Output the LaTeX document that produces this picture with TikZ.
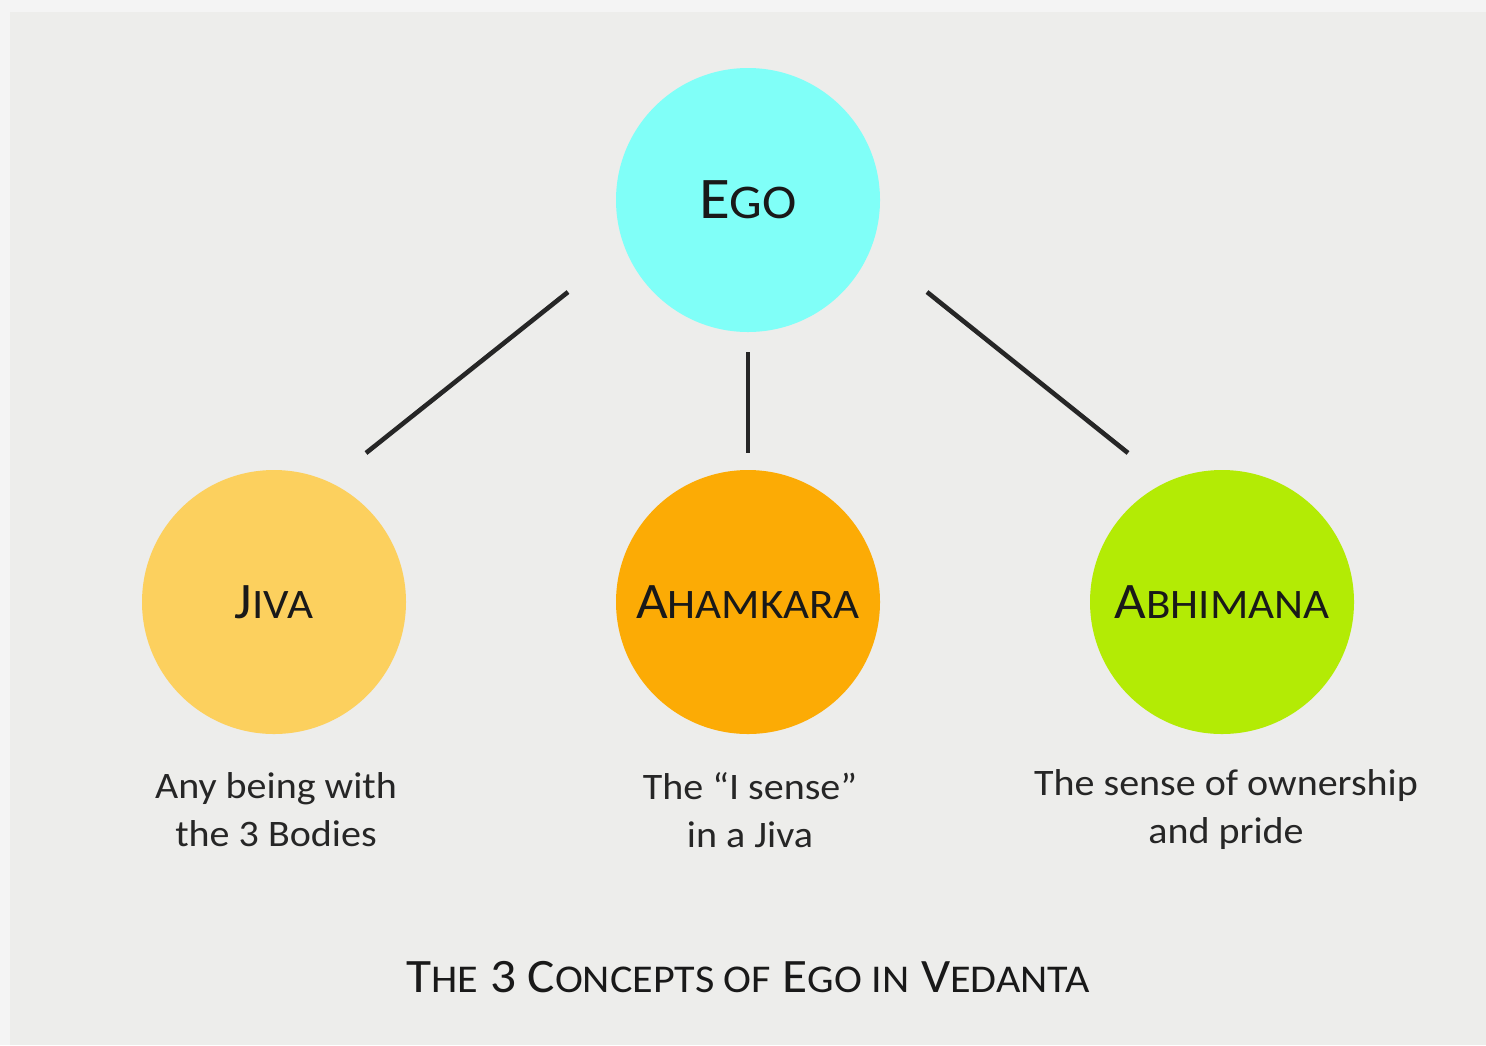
\documentclass[tikz,border=0pt]{standalone}
\usepackage{fontspec}
\setmainfont{Carlito}[FakeStretch=1.07]
\usetikzlibrary{positioning}
\definecolor{frame}{HTML}{F4F4F4}
\definecolor{paper}{HTML}{EDEDEB}
\definecolor{egocol}{HTML}{80FFF8}
\definecolor{jivacol}{HTML}{FCD05E}
\definecolor{ahamcol}{HTML}{FCAB05}
\definecolor{abhicol}{HTML}{B3EB05}
\newcommand{\smcap}[2]{#1\scalebox{0.82}{#2}}

\begin{document}
\begin{tikzpicture}[x=0.5pt,y=-0.5pt,
	concept/.style={circle,minimum size=132pt,inner sep=0pt,font=\fontsize{25.6}{28}\selectfont,text=black!90},
	note/.style={align=center,font=\fontsize{18.7}{24}\selectfont,text=black!85},
	link/.style={line width=2.3pt,black!85}]
	% background
	\fill [frame] (0,0) rectangle (1486,1045);
	\fill [paper] (10,12) rectangle (1486,1045);
	\useasboundingbox (0,0) rectangle (1486,1045);
	% circles
	\node [concept,fill=egocol,font=\fontsize{29.5}{32}\selectfont] at (748,200) (ego) {\smcap{E}{GO}};
	\node [concept,fill=jivacol] at (274,602) (jiva) {\smcap{J}{IVA}};
	\node [concept,fill=ahamcol] at (748,602) (aham) {\smcap{A}{HAMKARA}};
	\node [concept,fill=abhicol] at (1222,602) (abhi) {\smcap{A}{BHIMANA}};
	% line ends
	\path (ego.center) ++(-180,92) coordinate (egoL);
	\path (ego.center) ++(0,152) coordinate (egoM);
	\path (ego.center) ++(179,92) coordinate (egoR);
	\path (jiva.center) ++(92,-149) coordinate (jivaT);
	\path (aham.center) ++(0,-149) coordinate (ahamT);
	\path (abhi.center) ++(-94,-149) coordinate (abhiT);
	\draw [link] (egoL) -- (jivaT);
	\draw [link] (egoM) -- (ahamT);
	\draw [link] (egoR) -- (abhiT);
	% descriptions
	\node [note] at (276,810) (jivaNote) {Any being with\\the 3 Bodies};
	\node [note] at (750,810) (ahamNote) {The “I sense”\\in a Jiva};
	\node [note] at (1226,810) (abhiNote) {The sense of ownership\\and pride};
	% title
	\node [font=\fontsize{24}{28}\selectfont,text=black!90] at (748,977) (title) {\smcap{T}{HE} 3 \smcap{C}{ONCEPTS OF} \smcap{E}{GO IN} \smcap{V}{EDANTA}};
\end{tikzpicture}
\end{document}
